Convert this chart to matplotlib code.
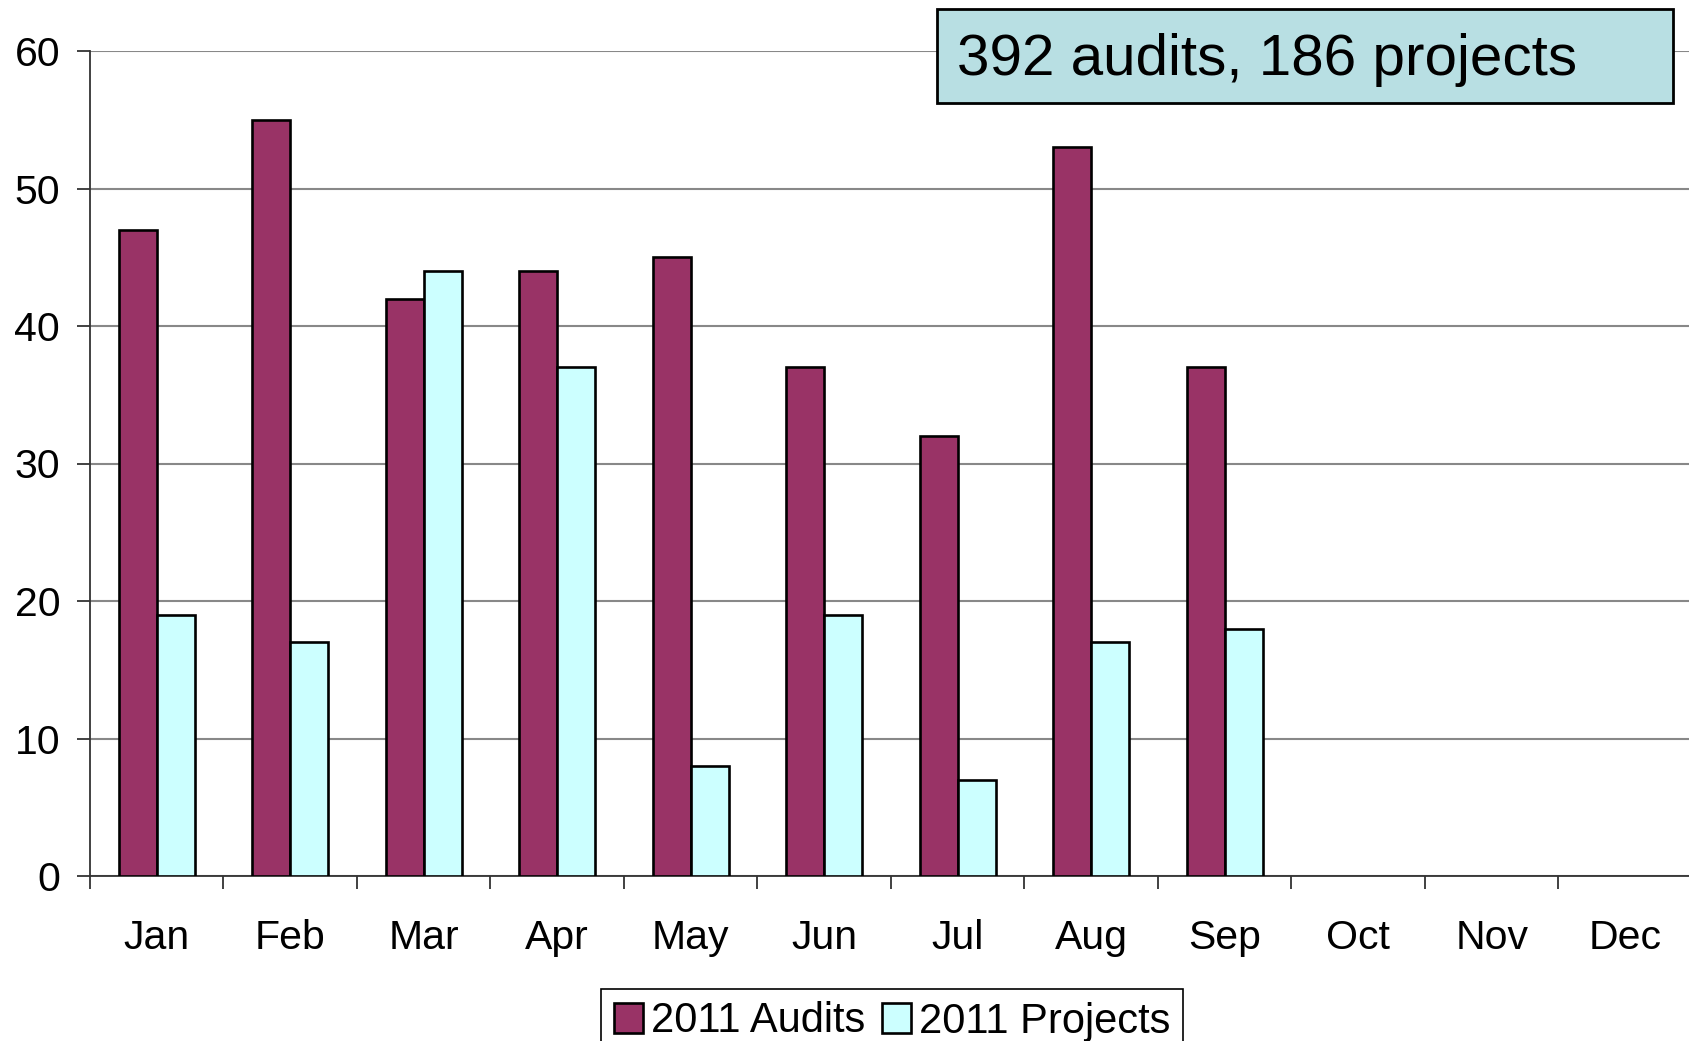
import matplotlib
matplotlib.use("Agg")
import matplotlib.pyplot as plt
from matplotlib.patches import Rectangle
import numpy as np

months = ["Jan", "Feb", "Mar", "Apr", "May", "Jun", "Jul", "Aug", "Sep", "Oct", "Nov", "Dec"]
audits = [47, 55, 42, 44, 45, 37, 32, 53, 37]
projects = [19, 17, 44, 37, 8, 19, 7, 17, 18]
series_names = ["2011 Audits", "2011 Projects"]
yticks = [0, 10, 20, 30, 40, 50, 60]
summary = "392 audits, 186 projects"

plt.rcParams['font.family'] = ['Liberation Sans', 'DejaVu Sans']

W, H = 1690, 1041
fig = plt.figure(figsize=(W / 100, H / 100), dpi=100)
ax = fig.add_axes([90 / W, (H - 876) / H, 1602 / W, 825 / H])

bw = 0.285
xa = np.arange(len(audits)) - bw / 2
xp = np.arange(len(projects)) + bw / 2
b1 = ax.bar(xa, audits, width=bw, color="#993366", edgecolor="black", linewidth=1.9, zorder=3,
            label=series_names[0])
b2 = ax.bar(xp, projects, width=bw, color="#CCFFFF", edgecolor="black", linewidth=1.9, zorder=3,
            label=series_names[1])

ax.set_xlim(-0.5, len(months) - 0.5)
ax.set_ylim(0, 60)
ax.set_yticks(yticks)
ax.set_yticklabels([str(v) for v in yticks])
ax.set_xticks(np.arange(len(months)))
ax.set_xticklabels(months)
ax.set_xticks(np.arange(len(months) + 1) - 0.5, minor=True)

ax.tick_params(axis='y', which='major', length=9.5, width=1.3, color="#333333", labelsize=29.5, pad=12)
ax.tick_params(axis='x', which='major', length=0, labelsize=29.5, pad=31)
ax.tick_params(axis='x', which='minor', length=9, width=1.3, color="#333333")

ax.yaxis.grid(True, color="#888888", linewidth=1.5, zorder=0)
ax.set_axisbelow(True)
for s in ["top", "right"]:
    ax.spines[s].set_visible(False)
ax.spines["left"].set_color("#333333")
ax.spines["left"].set_linewidth(1.3)
ax.spines["bottom"].set_color("#333333")
ax.spines["bottom"].set_linewidth(1.3)

# summary box
fig.patches.append(Rectangle((937 / W, (H - 103) / H), 736 / W, 94 / H, transform=fig.transFigure,
                             facecolor="#B8DFE3", edgecolor="black", linewidth=2, zorder=5))
fig.text(957 / W, (H - 75) / H, summary, fontsize=42, ha="left", va="baseline", zorder=6)

leg = fig.legend(handles=[b1, b2], labels=series_names, loc="upper left",
                 bbox_to_anchor=(601 / W, (H - 989) / H), ncol=2, fontsize=30,
                 frameon=True, fancybox=False, edgecolor="black", framealpha=1,
                 handlelength=0.7, handleheight=0.7, handletextpad=0.2,
                 columnspacing=0.4, borderpad=0.3, borderaxespad=0)
leg.get_frame().set_linewidth(1.2)

fig.savefig("out.png", dpi=100)
